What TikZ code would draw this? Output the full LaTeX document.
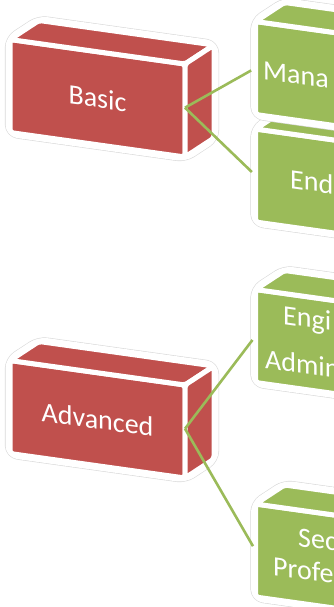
\documentclass[tikz,border=0pt]{standalone}
\usepackage{fontspec}
\setmainfont{Carlito}
\usetikzlibrary{calc}

\definecolor{boxred}{HTML}{C0504D}
\definecolor{boxgreen}{HTML}{9BBB59}

% name, front top-left corner, colour, front width
\newcommand{\blockbox}[4]{%
  \path #2 coordinate (#1-a) ++(#4,#4*0.14) coordinate (#1-b)
        ++(0,93) coordinate (#1-c) ++(-#4,-#4*0.14) coordinate (#1-d);
  \path (#1-b) ++(29,-19) coordinate (#1-e)
        (#1-c) ++(29,-19) coordinate (#1-f)
        (#1-a) ++(29,-19) coordinate (#1-g);
  \filldraw[boxhalo] (#1-g) -- (#1-e) -- (#1-f) -- (#1-c) -- (#1-d) -- (#1-a) -- cycle;
  \filldraw[boxface,fill=#3] (#1-a) -- (#1-b) -- (#1-c) -- (#1-d) -- cycle;
  \filldraw[boxface,fill=#3] (#1-a) -- (#1-b) -- (#1-e) -- (#1-g) -- cycle;
  \filldraw[boxface,fill=#3] (#1-b) -- (#1-e) -- (#1-f) -- (#1-c) -- cycle;
  \coordinate (#1-in) at ($(#1-a)!0.5!(#1-d)$);
  \coordinate (#1-out) at ($(#1-b)!0.47!(#1-c)$);
}

\begin{document}
\begin{tikzpicture}[x=1pt,y=-1pt]
  \tikzstyle{boxface}=[draw=white,line width=5pt,rounded corners=3pt,line join=round]
  \tikzstyle{boxhalo}=[fill=white,draw=black!15,double=white,double distance=9pt,
                       line width=0.6pt,rounded corners=8pt,line join=round]
  \tikzstyle{boxtext}=[text=white,font=\fontsize{28}{34}\selectfont,inner sep=0pt,yslant=-0.14]
  \tikzstyle{boxlink}=[draw=boxgreen,line width=2.6pt,shorten >=5pt]

  \useasboundingbox (0,0) rectangle (334,607);
  \clip (0,0) rectangle (334,607);

  % right column
  \blockbox{end}{(255.5,129)}{boxgreen}{120}
  \blockbox{mana}{(255.5,21.5)}{boxgreen}{120}
  \blockbox{engi}{(255.5,289.5)}{boxgreen}{120}
  \blockbox{sec}{(255.5,504)}{boxgreen}{120}

  % left column
  \blockbox{basic}{(10,39.5)}{boxred}{175}
  \blockbox{adv}{(10,360.5)}{boxred}{175}

  \draw[boxlink] (basic-out) -- (mana-in);
  \draw[boxlink] (basic-out) -- (end-in);
  \draw[boxlink] (adv-out) -- (engi-in);
  \draw[boxlink] (adv-out) -- (sec-in);

  \node[boxtext] (basictext) at ($(basic-a)!0.5!(basic-c)$) {Basic};
  \node[boxtext] (advtext)   at ($(adv-a)!0.5!(adv-c)$)     {Advanced};

  \node[boxtext,anchor=base west] (manatext)  at (263,79)  {Mana};
  \node[boxtext,anchor=base west] (endtext)   at (290,188) {End};
  \node[boxtext,anchor=base west] (engitext)  at (283,324) {Engi};
  \node[boxtext,anchor=base west] (admintext) at (265,368) {Admin};
  \node[boxtext,anchor=base west] (sectext)   at (298,546) {Sec};
  \node[boxtext,anchor=base west] (profetext) at (273,575) {Profe};
\end{tikzpicture}
\end{document}
